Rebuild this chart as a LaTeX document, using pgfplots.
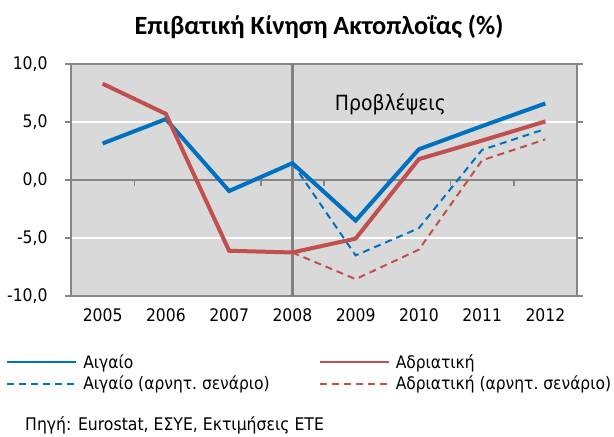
\documentclass[border=0pt]{standalone}
\usepackage{pgfplots}
\pgfplotsset{compat=1.18}
\usepackage{fontspec}
\setmainfont{DejaVu Sans Condensed}
\newfontfamily\titlefont{Carlito}
\definecolor{cblue}{HTML}{0070C0}
\definecolor{cred}{HTML}{C0504D}
\definecolor{cbg}{HTML}{D9D9D9}
\definecolor{cax}{HTML}{868686}
\begin{document}
\begin{tikzpicture}[x=1bp,y=1bp]
\path[use as bounding box] (0,0) rectangle (614,437);
\node[font=\titlefont\bfseries\fontsize{26.4}{29}\selectfont] at (319,410) {Επιβατική Κίνηση Ακτοπλοΐας (\%)};
\node[anchor=west, font=\fontsize{17.5}{20}\selectfont, inner sep=0pt] at (25,12) {Πηγή: Eurostat, ΕΣΥΕ, Εκτιμήσεις ΕΤΕ};
\begin{axis}[
  at={(71bp,141bp)}, anchor=south west,
  width=506bp, height=232bp, scale only axis,
  xmin=-0.5, xmax=7.5, ymin=-10, ymax=10,
  xtick={0,1,2,3,4,5,6,7},
  xticklabels={2005,2006,2007,2008,2009,2010,2011,2012},
  ytick={-10,-5,0,5,10},
  /pgf/number format/assume math mode=true,
  yticklabel style={/pgf/number format/.cd, fixed, fixed zerofill, precision=1, use comma, /tikz/.cd, xshift=-14bp},
  xticklabel style={yshift=-3bp},
  ticklabel style={font=\fontsize{17.4}{20}\selectfont},
  xtick style={draw=none},
  ytick style={draw=cax, line width=1.5bp},
  tick align=outside, major tick length=6bp,
  x axis line style={draw=none},
  y axis line style={draw=cax, line width=1.5bp},
  axis background/.style={fill=cbg},
  ymajorgrids, grid style={white, line width=1.5bp},
  legend columns=2,
  legend cell align=left,
  legend style={draw=none, fill=none, at={(axis description cs:-0.134,-0.235)}, anchor=north west,
    font=\fontsize{17.3}{20}\selectfont, row sep=2bp,
    /tikz/every even column/.append style={column sep=47bp}},
  legend image code/.code={\draw[#1, line width=2bp] (0bp,0bp) -- (69bp,0bp); \path (72bp,0bp);},
]
\draw[cax, line width=1.5bp] (axis cs:-0.5,0) -- (axis cs:7.5,0);
\draw[cax, line width=1.5bp] (axis cs:0.5,0) -- (axis cs:0.5,-0.55);
\draw[cax, line width=1.5bp] (axis cs:1.5,0) -- (axis cs:1.5,-0.55);
\draw[cax, line width=1.5bp] (axis cs:2.5,0) -- (axis cs:2.5,-0.55);
\draw[cax, line width=1.5bp] (axis cs:3.5,0) -- (axis cs:3.5,-0.55);
\draw[cax, line width=1.5bp] (axis cs:4.5,0) -- (axis cs:4.5,-0.55);
\draw[cax, line width=1.5bp] (axis cs:5.5,0) -- (axis cs:5.5,-0.55);
\draw[cax, line width=1.5bp] (axis cs:6.5,0) -- (axis cs:6.5,-0.55);
\draw[gray, line width=3bp] (axis cs:3,-10) -- (axis cs:3,10);
\node[font=\fontsize{21}{24}\selectfont] at (axis cs:4.55,6.5) {Προβλέψεις};
\addplot[cblue, line width=4bp] coordinates {(0,3.15) (1,5.25) (2,-0.95) (3,1.45) (4,-3.5) (5,2.65) (6,4.65) (7,6.6)};
\addlegendentry{Αιγαίο}
\addplot[cred, line width=4bp] coordinates {(0,8.3) (1,5.7) (2,-6.1) (3,-6.25) (4,-5.05) (5,1.8) (6,3.4) (7,5.05)};
\addlegendentry{Αδριατική}
\addplot[cblue, line width=2bp, dash pattern=on 7bp off 5bp] coordinates {(3,1.45) (4,-6.5) (5,-4.15) (6,2.6) (7,4.4)};
\addlegendentry{Αιγαίο (αρνητ.\ σενάριο)}
\addplot[cred, line width=2bp, dash pattern=on 7bp off 5bp] coordinates {(3,-6.25) (4,-8.55) (5,-6.0) (6,1.7) (7,3.5)};
\addlegendentry{Αδριατική (αρνητ.\ σενάριο)}
\end{axis}
\end{tikzpicture}
\end{document}
